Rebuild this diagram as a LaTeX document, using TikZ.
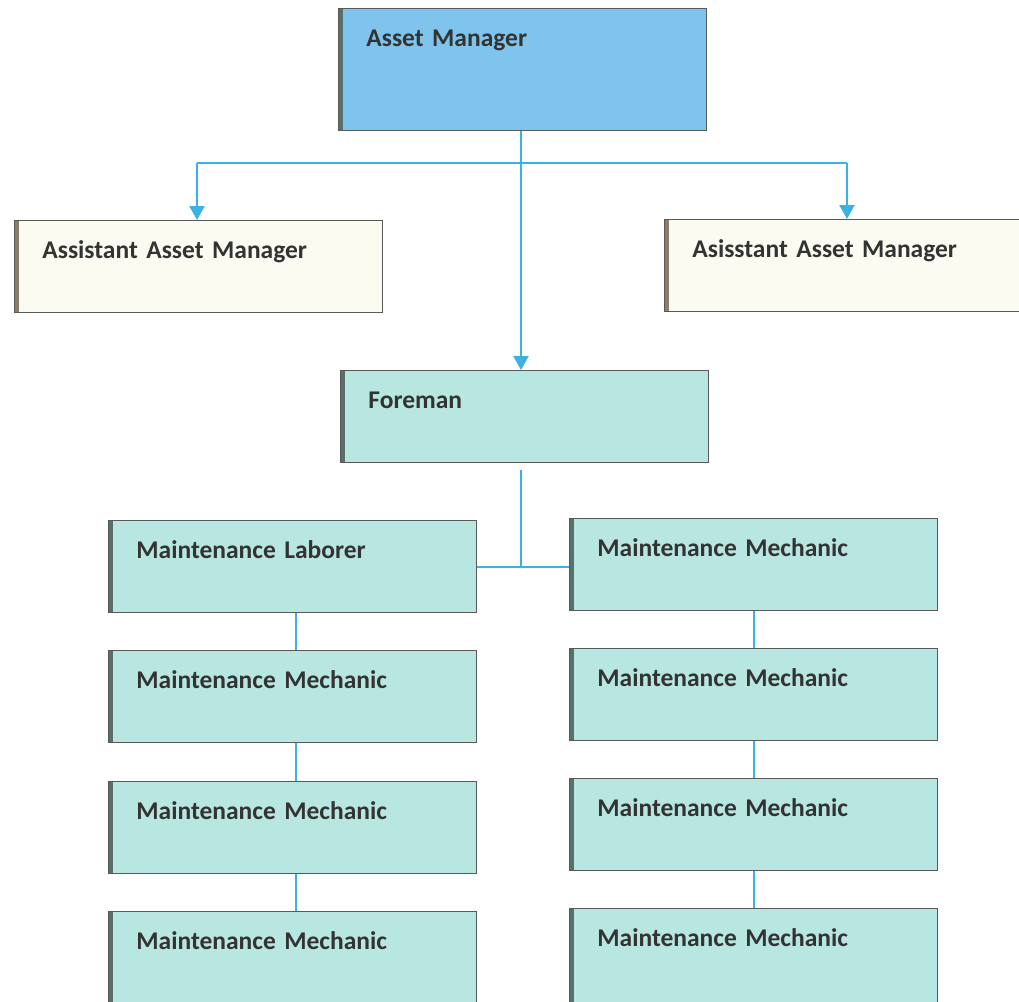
\documentclass[tikz,border=0pt]{standalone}
\usepackage{fontspec}
\setmainfont{Carlito}
\usetikzlibrary{arrows.meta}
\definecolor{mgrblue}{RGB}{126,196,236}
\definecolor{teal}{RGB}{184,230,224}
\definecolor{cream}{RGB}{252,251,242}
\definecolor{linkblue}{RGB}{58,178,228}
\definecolor{edgeteal}{RGB}{88,112,106}
\definecolor{edgebrown}{RGB}{140,124,106}

\begin{document}
\begin{tikzpicture}[x=1pt,y=-1pt]
    \tikzstyle{post}=[draw=black!65,line width=0.8pt,anchor=north west,inner xsep=28pt,inner ysep=0pt,
      text width=312pt,align=left,text height=38pt,text depth=54pt,text=black!80,
      font=\fontsize{25.5}{30}\selectfont\bfseries,
      path picture={\fill[edgeteal] (path picture bounding box.north west) rectangle ([xshift=5pt]path picture bounding box.south west);}]
    \tikzstyle{aide}=[post,fill=cream,
      path picture={\fill[edgebrown] (path picture bounding box.north west) rectangle ([xshift=5pt]path picture bounding box.south west);}]
    \tikzstyle{link}=[draw=linkblue,line width=2.5pt]
    \tikzstyle{arrow}=[link,-{Triangle[width=15pt,length=14pt]}]

    \useasboundingbox (0,0) rectangle (1019,1001);

    \node[post,fill=mgrblue,text depth=84pt] (boss) at (338,8) {Asset Manager};
    \node[aide] (aideL) at (14,220) {Assistant Asset Manager};
    \node[aide,text width=330pt] (aideR) at (664,219) {Asisstant Asset Manager};
    \node[post,fill=teal] (fore) at (340,370) {Foreman};

    \node[post,fill=teal] (l1) at (108,520) {Maintenance Laborer};
    \node[post,fill=teal] (l2) at (108,650) {Maintenance Mechanic};
    \node[post,fill=teal] (l3) at (108,781) {Maintenance Mechanic};
    \node[post,fill=teal,text depth=70pt] (l4) at (108,911) {Maintenance Mechanic};

    \node[post,fill=teal] (r1) at (569,518) {Maintenance Mechanic};
    \node[post,fill=teal] (r2) at (569,648) {Maintenance Mechanic};
    \node[post,fill=teal] (r3) at (569,778) {Maintenance Mechanic};
    \node[post,fill=teal,text depth=70pt] (r4) at (569,908) {Maintenance Mechanic};

    \coordinate (split) at (521,163);
    \coordinate (join) at (521,567);
    \coordinate (forefoot) at (521,470);

    \draw[arrow] (boss.south -| split) -- (fore.north -| split);
    \draw[arrow] (split -| 197,0) -- (aideL.north -| 197,0);
    \draw[arrow] (split -| 847,0) -- (aideR.north -| 847,0);
    \draw[link] (split -| 197,0) -- (split -| 847,0);

    \draw[link] (forefoot) -- (join);
    \draw[link] (l1.east |- join) -- (r1.west |- join);

    \draw[link] (l1.south -| 296,0) -- (l2.north -| 296,0);
    \draw[link] (l2.south -| 296,0) -- (l3.north -| 296,0);
    \draw[link] (l3.south -| 296,0) -- (l4.north -| 296,0);
    \draw[link] (r1.south -| 754,0) -- (r2.north -| 754,0);
    \draw[link] (r2.south -| 754,0) -- (r3.north -| 754,0);
    \draw[link] (r3.south -| 754,0) -- (r4.north -| 754,0);
\end{tikzpicture}
\end{document}
